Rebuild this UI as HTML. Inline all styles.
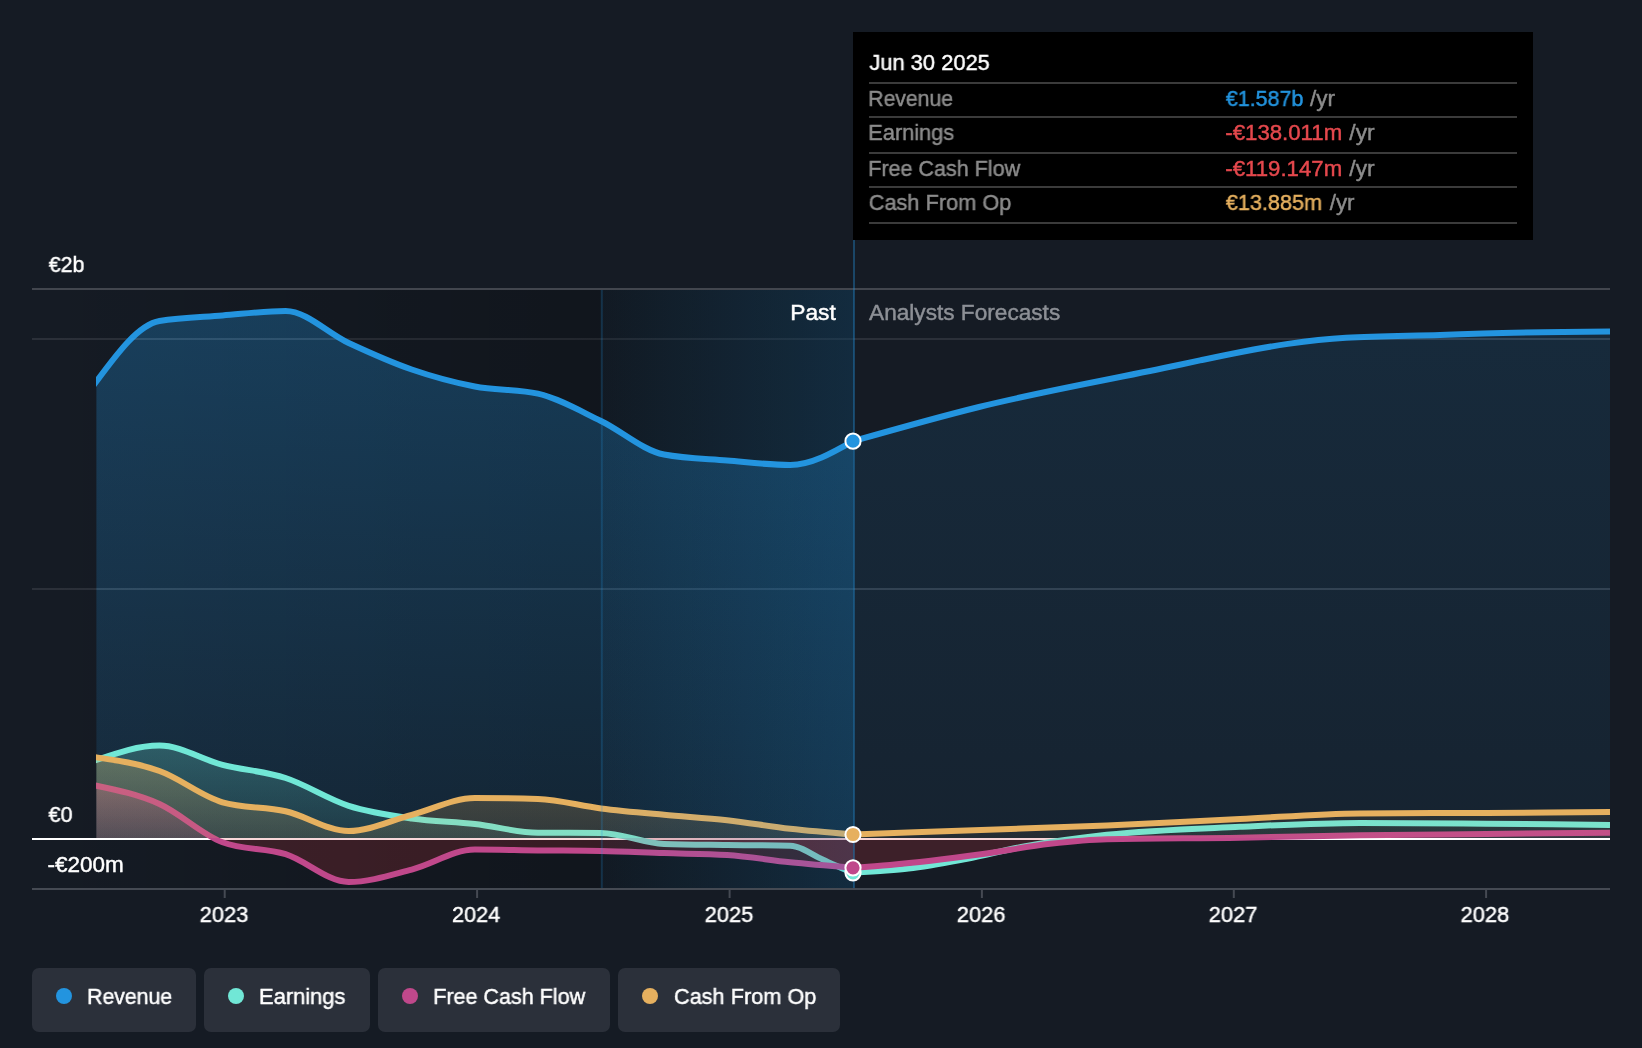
<!DOCTYPE html>
<html lang="en">
<head>
<meta charset="utf-8">
<title>Earnings and Revenue Growth</title>
<style>
html,body{margin:0;padding:0;background:#151b24;}
body{width:1642px;height:1048px;position:relative;overflow:hidden;font-family:"Liberation Sans",sans-serif;color:#fff;font-size:22px;}
.chart{position:absolute;left:0;top:0;display:block;}
.lbl{position:absolute;white-space:nowrap;line-height:26px;height:26px;font-size:22px;transform-origin:0 50%;-webkit-text-stroke:0.45px currentColor;will-change:transform;}
.tooltip{position:absolute;left:0;top:0;}
.tooltip:before{content:"";position:absolute;left:853px;top:32px;width:680px;height:208px;background:#000;}
.sep{position:absolute;left:869px;width:648px;height:2px;background:#3b3b3b;}
.item{position:absolute;top:968px;height:64px;background:#2b303a;border-radius:7px;}
.dot{position:absolute;left:24px;top:20px;width:16px;height:16px;border-radius:50%;}
</style>
</head>
<body>
<svg class="chart" width="1642" height="1048" viewBox="0 0 1642 1048">
<defs>
<linearGradient id="gPast" gradientUnits="userSpaceOnUse" x1="32" y1="0" x2="854" y2="0"><stop offset="0" stop-color="#000" stop-opacity="0"/><stop offset="1" stop-color="#000" stop-opacity="0.30"/></linearGradient>
<linearGradient id="gHi" gradientUnits="userSpaceOnUse" x1="601" y1="0" x2="854" y2="0"><stop offset="0" stop-color="#2394df" stop-opacity="0.035"/><stop offset="1" stop-color="#2394df" stop-opacity="0.19"/></linearGradient>
<linearGradient id="gRevP" gradientUnits="userSpaceOnUse" x1="0" y1="311" x2="0" y2="838"><stop offset="0" stop-color="#2394df" stop-opacity="0.3"/><stop offset="1" stop-color="#2394df" stop-opacity="0.12"/></linearGradient>
<linearGradient id="gRevF" gradientUnits="userSpaceOnUse" x1="0" y1="331" x2="0" y2="838"><stop offset="0" stop-color="#2394df" stop-opacity="0.125"/><stop offset="1" stop-color="#2394df" stop-opacity="0.065"/></linearGradient>
<linearGradient id="gEarP" gradientUnits="userSpaceOnUse" x1="0" y1="745" x2="0" y2="838"><stop offset="0" stop-color="#71e7d6" stop-opacity="0.26"/><stop offset="1" stop-color="#71e7d6" stop-opacity="0.1"/></linearGradient>
<linearGradient id="gEarF" gradientUnits="userSpaceOnUse" x1="0" y1="745" x2="0" y2="838"><stop offset="0" stop-color="#71e7d6" stop-opacity="0.13"/><stop offset="1" stop-color="#71e7d6" stop-opacity="0.05"/></linearGradient>
<linearGradient id="gCfoP" gradientUnits="userSpaceOnUse" x1="0" y1="757" x2="0" y2="838"><stop offset="0" stop-color="#e6b05f" stop-opacity="0.28"/><stop offset="1" stop-color="#e6b05f" stop-opacity="0.14"/></linearGradient>
<linearGradient id="gCfoF" gradientUnits="userSpaceOnUse" x1="0" y1="757" x2="0" y2="838"><stop offset="0" stop-color="#e6b05f" stop-opacity="0.14"/><stop offset="1" stop-color="#e6b05f" stop-opacity="0.07"/></linearGradient>
<linearGradient id="gFcfP" gradientUnits="userSpaceOnUse" x1="0" y1="785" x2="0" y2="838"><stop offset="0" stop-color="#d0608f" stop-opacity="0.34"/><stop offset="1" stop-color="#c0488b" stop-opacity="0.18"/></linearGradient>
<linearGradient id="gFcfF" gradientUnits="userSpaceOnUse" x1="0" y1="785" x2="0" y2="838"><stop offset="0" stop-color="#c0488b" stop-opacity="0.16"/><stop offset="1" stop-color="#c0488b" stop-opacity="0.09"/></linearGradient>
<clipPath id="cPos"><rect x="0" y="0" width="1642" height="838"/></clipPath>
<clipPath id="cRev"><path d="M96.40,381.50C117.42,353.08 138.45,324.67 159.47,321.00C180.49,317.33 201.52,317.17 222.54,315.50C243.56,313.83 264.59,311.00 285.61,311.00C306.63,311.00 327.66,333.25 348.68,343.00C369.70,352.75 390.73,362.25 411.75,369.50C432.77,376.75 453.80,382.47 474.82,386.50C495.84,390.53 516.87,388.90 537.89,393.70C558.91,398.50 579.94,410.87 600.96,421.00C621.98,431.13 643.01,450.50 664.03,454.50C685.05,458.50 706.08,458.75 727.10,460.50C748.12,462.25 769.15,465.00 790.17,465.00C811.11,465.00 832.06,453.10 853.00,441.20L853.00,838.0L96.40,838.0Z"/><path d="M853.00,441.20C895.00,429.29 937.00,417.38 979.00,407.00C1042.67,391.26 1106.33,380.36 1170.00,366.80C1180.00,364.67 1190.00,362.50 1200.00,360.40C1210.33,358.23 1220.67,356.03 1231.00,354.00C1250.00,350.27 1269.00,346.59 1288.00,343.90C1307.33,341.16 1326.67,338.99 1346.00,337.80C1377.33,335.87 1408.67,335.90 1440.00,334.90C1454.33,334.44 1468.67,333.91 1483.00,333.50C1525.33,332.30 1567.67,331.90 1610.00,331.50L1610.00,838.0L853.00,838.0Z"/></clipPath>
<clipPath id="cLine"><rect x="96" y="200" width="1514" height="760"/></clipPath>
<clipPath id="cNeg"><rect x="0" y="838" width="1642" height="60"/></clipPath>
</defs>
<rect x="32" y="288" width="1578" height="2" fill="#42464e"/>
<rect x="32" y="338" width="1578" height="2" fill="#2b3039"/>
<rect x="32" y="588" width="1578" height="2" fill="#2b3039"/>
<rect x="32" y="290" width="822" height="598" fill="url(#gPast)"/>
<rect x="32" y="838" width="1578" height="2" fill="#ffffff"/>
<rect x="32" y="888" width="1578" height="2" fill="#454a53"/>
<rect x="223.7" y="890" width="2" height="8" fill="#454a53"/>
<rect x="476.1" y="890" width="2" height="8" fill="#454a53"/>
<rect x="728.6" y="890" width="2" height="8" fill="#454a53"/>
<rect x="980.9" y="890" width="2" height="8" fill="#454a53"/>
<rect x="1232.8" y="890" width="2" height="8" fill="#454a53"/>
<rect x="1485.1" y="890" width="2" height="8" fill="#454a53"/>
<g clip-path="url(#cPos)"><path d="M96.40,381.50C117.42,353.08 138.45,324.67 159.47,321.00C180.49,317.33 201.52,317.17 222.54,315.50C243.56,313.83 264.59,311.00 285.61,311.00C306.63,311.00 327.66,333.25 348.68,343.00C369.70,352.75 390.73,362.25 411.75,369.50C432.77,376.75 453.80,382.47 474.82,386.50C495.84,390.53 516.87,388.90 537.89,393.70C558.91,398.50 579.94,410.87 600.96,421.00C621.98,431.13 643.01,450.50 664.03,454.50C685.05,458.50 706.08,458.75 727.10,460.50C748.12,462.25 769.15,465.00 790.17,465.00C811.11,465.00 832.06,453.10 853.00,441.20L853.00,838.0L96.40,838.0Z" fill="url(#gRevP)"/><path d="M853.00,441.20C895.00,429.29 937.00,417.38 979.00,407.00C1042.67,391.26 1106.33,380.36 1170.00,366.80C1180.00,364.67 1190.00,362.50 1200.00,360.40C1210.33,358.23 1220.67,356.03 1231.00,354.00C1250.00,350.27 1269.00,346.59 1288.00,343.90C1307.33,341.16 1326.67,338.99 1346.00,337.80C1377.33,335.87 1408.67,335.90 1440.00,334.90C1454.33,334.44 1468.67,333.91 1483.00,333.50C1525.33,332.30 1567.67,331.90 1610.00,331.50L1610.00,838.0L853.00,838.0Z" fill="url(#gRevF)"/></g>
<g clip-path="url(#cLine)" fill="none" stroke="#2394df" stroke-width="6" stroke-linejoin="round"><path d="M88.40,392.31L96.40,381.50C117.42,353.08 138.45,324.67 159.47,321.00C180.49,317.33 201.52,317.17 222.54,315.50C243.56,313.83 264.59,311.00 285.61,311.00C306.63,311.00 327.66,333.25 348.68,343.00C369.70,352.75 390.73,362.25 411.75,369.50C432.77,376.75 453.80,382.47 474.82,386.50C495.84,390.53 516.87,388.90 537.89,393.70C558.91,398.50 579.94,410.87 600.96,421.00C621.98,431.13 643.01,450.50 664.03,454.50C685.05,458.50 706.08,458.75 727.10,460.50C748.12,462.25 769.15,465.00 790.17,465.00C811.11,465.00 832.06,453.10 853.00,441.20"/><path d="M853.00,441.20C895.00,429.29 937.00,417.38 979.00,407.00C1042.67,391.26 1106.33,380.36 1170.00,366.80C1180.00,364.67 1190.00,362.50 1200.00,360.40C1210.33,358.23 1220.67,356.03 1231.00,354.00C1250.00,350.27 1269.00,346.59 1288.00,343.90C1307.33,341.16 1326.67,338.99 1346.00,337.80C1377.33,335.87 1408.67,335.90 1440.00,334.90C1454.33,334.44 1468.67,333.91 1483.00,333.50C1525.33,332.30 1567.67,331.90 1610.00,331.50"/></g>
<g clip-path="url(#cRev)"><rect x="96" y="338" width="1514" height="2" fill="#9fc4e6" fill-opacity="0.07"/><rect x="96" y="588" width="1514" height="2" fill="#9fc4e6" fill-opacity="0.07"/></g>
<g clip-path="url(#cPos)"><path d="M96.40,760.00C117.42,752.75 138.45,745.50 159.47,745.50C180.49,745.50 201.52,759.38 222.54,764.80C243.56,770.22 264.59,771.17 285.61,778.00C306.63,784.83 327.66,799.05 348.68,805.80C369.70,812.55 390.73,815.47 411.75,818.50C432.77,821.53 453.80,821.63 474.82,824.00C495.84,826.37 516.87,832.57 537.89,832.70C558.91,832.83 579.94,832.77 600.96,832.90C621.98,833.03 643.01,843.33 664.03,844.00C685.05,844.67 706.08,844.72 727.10,845.00C748.12,845.28 769.15,845.23 790.17,845.70C792.61,845.75 795.06,846.52 797.50,847.20C804.57,849.17 811.63,854.20 818.70,857.60C823.77,860.04 828.83,862.52 833.90,864.80C840.27,867.66 846.63,870.23 853.00,872.80L853.00,838.0L96.40,838.0Z" fill="url(#gEarP)"/><path d="M853.00,872.80C864.17,872.15 875.33,871.50 886.50,870.60C893.83,870.01 901.17,869.42 908.50,868.60C928.00,866.41 947.50,862.44 967.00,858.70C986.47,854.97 1005.93,849.73 1025.40,846.20C1044.93,842.66 1064.47,839.96 1084.00,837.50C1091.67,836.53 1099.33,835.64 1107.00,834.80C1151.33,829.97 1195.67,828.82 1240.00,826.80C1280.00,824.98 1320.00,822.90 1360.00,822.90C1402.00,822.90 1444.00,823.35 1486.00,823.70C1527.33,824.05 1568.67,824.52 1610.00,825.00L1610.00,838.0L853.00,838.0Z" fill="url(#gEarF)"/></g>
<g clip-path="url(#cNeg)"><path d="M96.40,760.00C117.42,752.75 138.45,745.50 159.47,745.50C180.49,745.50 201.52,759.38 222.54,764.80C243.56,770.22 264.59,771.17 285.61,778.00C306.63,784.83 327.66,799.05 348.68,805.80C369.70,812.55 390.73,815.47 411.75,818.50C432.77,821.53 453.80,821.63 474.82,824.00C495.84,826.37 516.87,832.57 537.89,832.70C558.91,832.83 579.94,832.77 600.96,832.90C621.98,833.03 643.01,843.33 664.03,844.00C685.05,844.67 706.08,844.72 727.10,845.00C748.12,845.28 769.15,845.23 790.17,845.70C792.61,845.75 795.06,846.52 797.50,847.20C804.57,849.17 811.63,854.20 818.70,857.60C823.77,860.04 828.83,862.52 833.90,864.80C840.27,867.66 846.63,870.23 853.00,872.80L853.00,838.0L96.40,838.0Z" fill="#d8393f" fill-opacity="0.20"/><path d="M853.00,872.80C864.17,872.15 875.33,871.50 886.50,870.60C893.83,870.01 901.17,869.42 908.50,868.60C928.00,866.41 947.50,862.44 967.00,858.70C986.47,854.97 1005.93,849.73 1025.40,846.20C1044.93,842.66 1064.47,839.96 1084.00,837.50C1091.67,836.53 1099.33,835.64 1107.00,834.80C1151.33,829.97 1195.67,828.82 1240.00,826.80C1280.00,824.98 1320.00,822.90 1360.00,822.90C1402.00,822.90 1444.00,823.35 1486.00,823.70C1527.33,824.05 1568.67,824.52 1610.00,825.00L1610.00,838.0L853.00,838.0Z" fill="#d8393f" fill-opacity="0.11"/></g>
<g clip-path="url(#cLine)" fill="none" stroke="#71e7d6" stroke-width="6" stroke-linejoin="round"><path d="M88.40,762.76L96.40,760.00C117.42,752.75 138.45,745.50 159.47,745.50C180.49,745.50 201.52,759.38 222.54,764.80C243.56,770.22 264.59,771.17 285.61,778.00C306.63,784.83 327.66,799.05 348.68,805.80C369.70,812.55 390.73,815.47 411.75,818.50C432.77,821.53 453.80,821.63 474.82,824.00C495.84,826.37 516.87,832.57 537.89,832.70C558.91,832.83 579.94,832.77 600.96,832.90C621.98,833.03 643.01,843.33 664.03,844.00C685.05,844.67 706.08,844.72 727.10,845.00C748.12,845.28 769.15,845.23 790.17,845.70C792.61,845.75 795.06,846.52 797.50,847.20C804.57,849.17 811.63,854.20 818.70,857.60C823.77,860.04 828.83,862.52 833.90,864.80C840.27,867.66 846.63,870.23 853.00,872.80"/><path d="M853.00,872.80C864.17,872.15 875.33,871.50 886.50,870.60C893.83,870.01 901.17,869.42 908.50,868.60C928.00,866.41 947.50,862.44 967.00,858.70C986.47,854.97 1005.93,849.73 1025.40,846.20C1044.93,842.66 1064.47,839.96 1084.00,837.50C1091.67,836.53 1099.33,835.64 1107.00,834.80C1151.33,829.97 1195.67,828.82 1240.00,826.80C1280.00,824.98 1320.00,822.90 1360.00,822.90C1402.00,822.90 1444.00,823.35 1486.00,823.70C1527.33,824.05 1568.67,824.52 1610.00,825.00"/></g>
<g clip-path="url(#cPos)"><path d="M96.40,785.70C117.42,790.13 138.45,794.57 159.47,804.00C180.49,813.43 201.52,834.37 222.54,842.30C243.56,850.23 264.59,847.58 285.61,854.20C306.63,860.82 327.66,882.00 348.68,882.00C369.70,882.00 390.73,875.02 411.75,869.60C432.77,864.18 453.80,849.50 474.82,849.50C495.84,849.50 516.87,850.15 537.89,850.40C558.91,850.65 579.94,850.60 600.96,851.00C621.98,851.40 643.01,852.43 664.03,853.10C685.05,853.77 706.08,853.73 727.10,855.00C748.12,856.27 769.15,860.16 790.17,862.30C811.11,864.43 832.06,866.11 853.00,867.80L853.00,838.0L96.40,838.0Z" fill="url(#gFcfP)"/><path d="M853.00,867.80C865.33,866.94 877.67,866.08 890.00,865.00C920.33,862.34 950.67,858.46 981.00,854.30C1004.00,851.14 1027.00,846.40 1050.00,843.80C1069.00,841.65 1088.00,839.63 1107.00,839.20C1151.33,838.20 1195.67,838.40 1240.00,837.70C1280.00,837.07 1320.00,835.91 1360.00,835.30C1402.00,834.66 1444.00,834.44 1486.00,834.00C1527.33,833.57 1568.67,833.14 1610.00,832.70L1610.00,838.0L853.00,838.0Z" fill="url(#gFcfF)"/></g>
<g clip-path="url(#cNeg)"><path d="M96.40,785.70C117.42,790.13 138.45,794.57 159.47,804.00C180.49,813.43 201.52,834.37 222.54,842.30C243.56,850.23 264.59,847.58 285.61,854.20C306.63,860.82 327.66,882.00 348.68,882.00C369.70,882.00 390.73,875.02 411.75,869.60C432.77,864.18 453.80,849.50 474.82,849.50C495.84,849.50 516.87,850.15 537.89,850.40C558.91,850.65 579.94,850.60 600.96,851.00C621.98,851.40 643.01,852.43 664.03,853.10C685.05,853.77 706.08,853.73 727.10,855.00C748.12,856.27 769.15,860.16 790.17,862.30C811.11,864.43 832.06,866.11 853.00,867.80L853.00,838.0L96.40,838.0Z" fill="#d8393f" fill-opacity="0.20"/><path d="M853.00,867.80C865.33,866.94 877.67,866.08 890.00,865.00C920.33,862.34 950.67,858.46 981.00,854.30C1004.00,851.14 1027.00,846.40 1050.00,843.80C1069.00,841.65 1088.00,839.63 1107.00,839.20C1151.33,838.20 1195.67,838.40 1240.00,837.70C1280.00,837.07 1320.00,835.91 1360.00,835.30C1402.00,834.66 1444.00,834.44 1486.00,834.00C1527.33,833.57 1568.67,833.14 1610.00,832.70L1610.00,838.0L853.00,838.0Z" fill="#d8393f" fill-opacity="0.11"/></g>
<g clip-path="url(#cLine)" fill="none" stroke="#c0488b" stroke-width="6" stroke-linejoin="round"><path d="M88.40,784.01L96.40,785.70C117.42,790.13 138.45,794.57 159.47,804.00C180.49,813.43 201.52,834.37 222.54,842.30C243.56,850.23 264.59,847.58 285.61,854.20C306.63,860.82 327.66,882.00 348.68,882.00C369.70,882.00 390.73,875.02 411.75,869.60C432.77,864.18 453.80,849.50 474.82,849.50C495.84,849.50 516.87,850.15 537.89,850.40C558.91,850.65 579.94,850.60 600.96,851.00C621.98,851.40 643.01,852.43 664.03,853.10C685.05,853.77 706.08,853.73 727.10,855.00C748.12,856.27 769.15,860.16 790.17,862.30C811.11,864.43 832.06,866.11 853.00,867.80"/><path d="M853.00,867.80C865.33,866.94 877.67,866.08 890.00,865.00C920.33,862.34 950.67,858.46 981.00,854.30C1004.00,851.14 1027.00,846.40 1050.00,843.80C1069.00,841.65 1088.00,839.63 1107.00,839.20C1151.33,838.20 1195.67,838.40 1240.00,837.70C1280.00,837.07 1320.00,835.91 1360.00,835.30C1402.00,834.66 1444.00,834.44 1486.00,834.00C1527.33,833.57 1568.67,833.14 1610.00,832.70"/></g>
<g clip-path="url(#cPos)"><path d="M96.40,757.40C117.42,760.46 138.45,763.52 159.47,771.00C180.49,778.48 201.52,796.30 222.54,802.30C243.56,808.30 264.59,806.52 285.61,811.30C306.63,816.08 327.66,831.00 348.68,831.00C369.70,831.00 390.73,820.30 411.75,814.80C432.77,809.30 453.80,798.00 474.82,798.00C495.84,798.00 516.87,798.33 537.89,799.00C558.91,799.67 579.94,805.77 600.96,808.40C621.98,811.03 643.01,812.83 664.03,814.80C685.05,816.77 706.08,817.87 727.10,820.20C748.12,822.53 769.15,826.41 790.17,828.80C811.11,831.18 832.06,832.84 853.00,834.50L853.00,838.0L96.40,838.0Z" fill="url(#gCfoP)"/><path d="M853.00,834.50C895.67,833.01 938.33,831.51 981.00,830.00C1023.00,828.51 1065.00,827.27 1107.00,825.50C1151.33,823.63 1195.67,821.12 1240.00,819.00C1280.00,817.09 1320.00,813.72 1360.00,813.40C1402.00,813.07 1444.00,813.12 1486.00,812.90C1527.33,812.68 1568.67,812.39 1610.00,812.10L1610.00,838.0L853.00,838.0Z" fill="url(#gCfoF)"/></g>
<g clip-path="url(#cLine)" fill="none" stroke="#e6b05f" stroke-width="6" stroke-linejoin="round"><path d="M88.40,756.24L96.40,757.40C117.42,760.46 138.45,763.52 159.47,771.00C180.49,778.48 201.52,796.30 222.54,802.30C243.56,808.30 264.59,806.52 285.61,811.30C306.63,816.08 327.66,831.00 348.68,831.00C369.70,831.00 390.73,820.30 411.75,814.80C432.77,809.30 453.80,798.00 474.82,798.00C495.84,798.00 516.87,798.33 537.89,799.00C558.91,799.67 579.94,805.77 600.96,808.40C621.98,811.03 643.01,812.83 664.03,814.80C685.05,816.77 706.08,817.87 727.10,820.20C748.12,822.53 769.15,826.41 790.17,828.80C811.11,831.18 832.06,832.84 853.00,834.50"/><path d="M853.00,834.50C895.67,833.01 938.33,831.51 981.00,830.00C1023.00,828.51 1065.00,827.27 1107.00,825.50C1151.33,823.63 1195.67,821.12 1240.00,819.00C1280.00,817.09 1320.00,813.72 1360.00,813.40C1402.00,813.07 1444.00,813.12 1486.00,812.90C1527.33,812.68 1568.67,812.39 1610.00,812.10"/></g>
<rect x="601" y="290" width="253" height="598" fill="url(#gHi)"/>
<rect x="600.8" y="290" width="2" height="598" fill="#2394df" fill-opacity="0.2"/>
<rect x="853" y="240" width="2" height="648" fill="#2394df" fill-opacity="0.36"/>
<circle cx="853.0" cy="441.2" r="7.6" fill="#2394df" stroke="#ffffff" stroke-width="2"/>
<circle cx="853.0" cy="872.8" r="7.6" fill="#71e7d6" stroke="#ffffff" stroke-width="2"/>
<circle cx="853.0" cy="867.8" r="7.6" fill="#c0488b" stroke="#ffffff" stroke-width="2"/>
<circle cx="853.0" cy="834.5" r="7.6" fill="#e6b05f" stroke="#ffffff" stroke-width="2"/>
</svg>
<div class="lbl" id="y2b" style="left:48.5px;top:252px;color:#fff;transform:translateX(-0.29px) scaleX(0.9726);">€2b</div>
<div class="lbl" id="y0" style="left:48.5px;top:802px;color:#fff;transform:translateX(-0.59px) scaleX(0.9872);">€0</div>
<div class="lbl" id="ym200" style="left:48px;top:852px;color:#fff;transform:translateX(-0.42px) scaleX(1.0208);">-€200m</div>
<div class="lbl" id="x0" style="left:200.0px;top:901.5px;color:#fff;transform:translateX(-0.34px) scaleX(0.9941);">2023</div>
<div class="lbl" id="x1" style="left:452.35px;top:901.5px;color:#fff;transform:translateX(-0.03px) scaleX(0.9843);">2024</div>
<div class="lbl" id="x2" style="left:704.7px;top:901.5px;color:#fff;transform:translateX(-0.34px) scaleX(0.9930);">2025</div>
<div class="lbl" id="x3" style="left:957.05px;top:901.5px;color:#fff;transform:translateX(-0.24px) scaleX(0.9942);">2026</div>
<div class="lbl" id="x4" style="left:1209.4px;top:901.5px;color:#fff;transform:translateX(-0.34px) scaleX(0.9961);">2027</div>
<div class="lbl" id="x5" style="left:1461.75px;top:901.5px;color:#fff;transform:translateX(-1.44px) scaleX(0.9935);">2028</div>
<div class="lbl" id="past" style="left:791px;top:300px;color:#fff;transform:translateX(-0.77px) scaleX(1.0350);">Past</div>
<div class="lbl" id="fore" style="left:869px;top:300px;color:#8d9096;transform:translateX(0.09px) scaleX(1.0283);">Analysts Forecasts</div>
<div class="tooltip">
<div class="lbl" id="tt" style="left:869.5px;top:50px;color:#fff;transform:translateX(-0.61px) scaleX(0.9945);">Jun 30 2025</div>
<div class="sep" style="top:82px"></div>
<div class="sep" style="top:116px"></div>
<div class="sep" style="top:152px"></div>
<div class="sep" style="top:186px"></div>
<div class="sep" style="top:222px"></div>
<div class="lbl" id="k1" style="left:869.5px;top:85.5px;color:#8c8c8c;transform:translateX(-1.76px) scaleX(0.9638);">Revenue</div>
<div class="lbl" id="v1" style="left:1226px;top:85.5px;color:#2394df;transform:translateX(-0.19px) scaleX(0.9762);">€1.587b</div>
<div class="lbl" id="u1" style="left:1309.8px;top:85.5px;color:#8c8c8c;transform:translateX(-0.08px) scaleX(1.0226);">/yr</div>
<div class="lbl" id="k2" style="left:869.5px;top:119.5px;color:#8c8c8c;transform:translateX(-1.80px) scaleX(0.9911);">Earnings</div>
<div class="lbl" id="v2" style="left:1226px;top:119.5px;color:#e5484d;transform:translateX(-0.71px) scaleX(1.0095);">-€138.011m</div>
<div class="lbl" id="u2" style="left:1349.2px;top:119.5px;color:#8c8c8c;transform:translateX(0.32px) scaleX(1.0349);">/yr</div>
<div class="lbl" id="k3" style="left:869.5px;top:155.5px;color:#8c8c8c;transform:translateX(-1.78px) scaleX(0.9781);">Free Cash Flow</div>
<div class="lbl" id="v3" style="left:1226px;top:155.5px;color:#e5484d;transform:translateX(-0.71px) scaleX(1.0095);">-€119.147m</div>
<div class="lbl" id="u3" style="left:1349.2px;top:155.5px;color:#8c8c8c;transform:translateX(0.32px) scaleX(1.0349);">/yr</div>
<div class="lbl" id="k4" style="left:869.5px;top:189.5px;color:#8c8c8c;transform:translateX(-1.29px) scaleX(0.9884);">Cash From Op</div>
<div class="lbl" id="v4" style="left:1226px;top:189.5px;color:#e6b05f;transform:translateX(-0.19px) scaleX(0.9842);">€13.885m</div>
<div class="lbl" id="u4" style="left:1329.6px;top:189.5px;color:#8c8c8c;transform:translateX(-0.28px) scaleX(1.0144);">/yr</div>
</div>
<div class="legend">
<div class="item" style="left:32px;width:164px"><span class="dot" style="background:#2394df"></span></div>
<div class="lbl" id="l1" style="left:88.5px;top:983.5px;color:#fff;transform:translateX(-1.87px) scaleX(0.9662);">Revenue</div>
<div class="item" style="left:204px;width:166px"><span class="dot" style="background:#71e7d6"></span></div>
<div class="lbl" id="l2" style="left:260.5px;top:983.5px;color:#fff;transform:translateX(-2.01px) scaleX(0.9958);">Earnings</div>
<div class="item" style="left:378px;width:232px"><span class="dot" style="background:#c0488b"></span></div>
<div class="lbl" id="l3" style="left:434.5px;top:983.5px;color:#fff;transform:translateX(-1.78px) scaleX(0.9781);">Free Cash Flow</div>
<div class="item" style="left:618px;width:222px"><span class="dot" style="background:#e6b05f"></span></div>
<div class="lbl" id="l4" style="left:674.5px;top:983.5px;color:#fff;transform:translateX(-1.09px) scaleX(0.9870);">Cash From Op</div>
</div>
</body>
</html>
